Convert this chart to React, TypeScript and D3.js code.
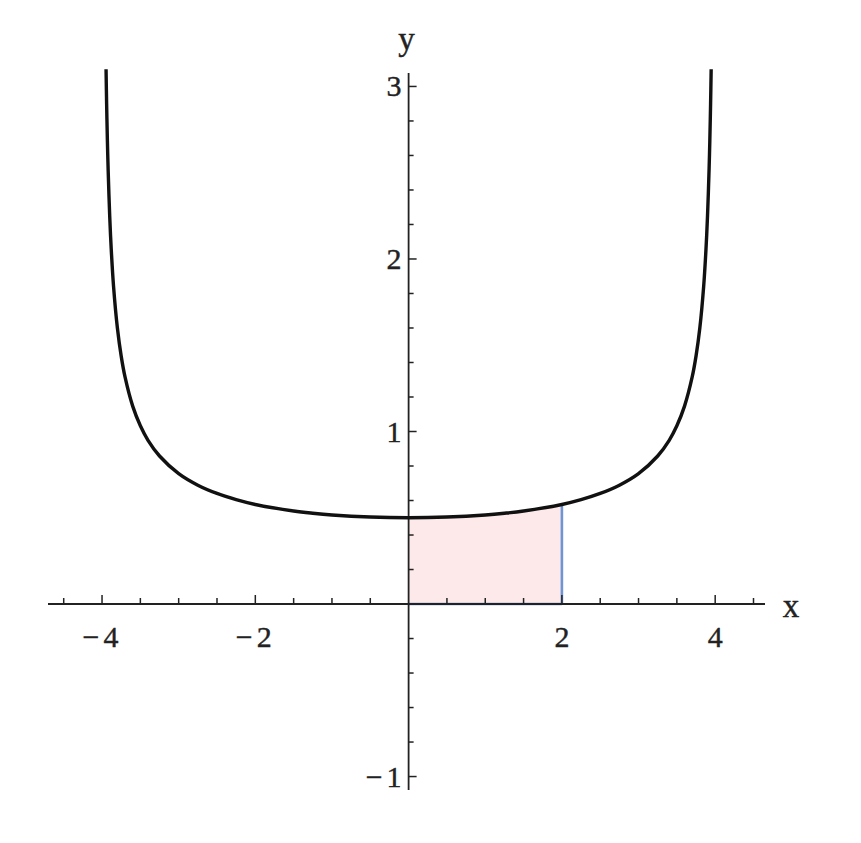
import React from "react";
import * as d3 from "d3";

const curveX = [
  -3.9476, -3.94, -3.93, -3.92, -3.9, -3.88, -3.85, -3.8, -3.75, -3.7, -3.6, -3.5, -3.4, -3.25, -3.0, -2.75, -2.5, -2.25, -2.0, -1.5, -1.25, -1.0, -0.5, 0,
  0.5, 1.0, 1.25, 1.5, 2.0, 2.25, 2.5, 2.75, 3.0, 3.25, 3.4, 3.5, 3.6, 3.7, 3.75, 3.8, 3.85, 3.88, 3.9, 3.92, 3.93, 3.94, 3.9476,
];
const curveY = [
  3.1, 2.898, 2.684, 2.513, 2.25, 2.057, 1.843, 1.601, 1.437, 1.316, 1.147, 1.033, 0.949, 0.858, 0.756, 0.689, 0.641, 0.605, 0.577, 0.539, 0.526, 0.516, 0.504, 0.5,
  0.504, 0.516, 0.526, 0.539, 0.577, 0.605, 0.641, 0.689, 0.756, 0.858, 0.949, 1.033, 1.147, 1.316, 1.437, 1.601, 1.843, 2.057, 2.25, 2.513, 2.684, 2.898, 3.1,
];
const shadeX = [0, 0.5, 1.0, 1.5, 2.0];
const shadeY = [0.5, 0.504, 0.516, 0.539, 0.577];

const xTickLabels = [-4, -2, 2, 4];
const yTickLabels = [-1, 1, 2, 3];
const xMinorTicks = [-4.5, -4, -3.5, -3, -2.5, -2, -1.5, -1, -0.5, 0.5, 1, 1.5, 2, 2.5, 3, 3.5, 4, 4.5];
const yMinorTicks = [-1, -0.8, -0.6, -0.4, -0.2, 0.2, 0.4, 0.6, 0.8, 1, 1.2, 1.4, 1.6, 1.8, 2, 2.2, 2.4, 2.6, 2.8, 3];

export default function App() {
  const W = 861, H = 843;
  const x = d3.scaleLinear().domain([-4.705, 4.65]).range([48, 765]);
  const y = d3.scaleLinear().domain([-1.078, 3.078]).range([790, 73]);

  const curvePts = curveX.map((v, i) => [v, curveY[i]] as [number, number]);
  const line = d3.line<[number, number]>().x(d => x(d[0])).y(d => y(d[1])).curve(d3.curveCatmullRom);
  const shadePts = shadeX.map((v, i) => [v, shadeY[i]] as [number, number]);
  const area = d3.area<[number, number]>().x(d => x(d[0])).y0(y(0)).y1(d => y(d[1])).curve(d3.curveCatmullRom);

  const font = "'Liberation Serif', 'DejaVu Serif', serif";
  const axisColor = "#222";
  const x0 = x(0), y0 = y(0);
  const label = (t: number) =>
    t < 0 ? (
      <>
        <tspan>{"\u2212"}</tspan>
        <tspan dx={4}>{String(Math.abs(t))}</tspan>
      </>
    ) : (
      String(t)
    );
  const textStyle = { stroke: "#222", strokeWidth: 0.4 } as React.CSSProperties;

  return (
    <svg width={W} height={H} style={{ position: "absolute", left: 0, top: 0, background: "#fff" }}>
      <path d={area(shadePts) || ""} fill="#fde9ea" stroke="none" />
      <line x1={x(2)} x2={x(2)} y1={y0} y2={y(shadeY[shadeY.length - 1])} stroke="#7094d4" strokeWidth={2.6} />
      <line x1={x(0)} x2={x(2)} y1={y0} y2={y0} stroke="#7094d4" strokeWidth={2.6} />

      {/* axes */}
      <line x1={48} x2={765} y1={y0} y2={y0} stroke={axisColor} strokeWidth={1.8} />
      <line x1={x0} x2={x0} y1={73} y2={790} stroke={axisColor} strokeWidth={1.8} />
      {xMinorTicks.map(t => {
        const major = xTickLabels.includes(t);
        return <line key={"xt" + t} x1={x(t)} x2={x(t)} y1={y0} y2={y0 - (major ? 9 : 6)} stroke={axisColor} strokeWidth={1.5} />;
      })}
      {yMinorTicks.map(t => {
        const major = yTickLabels.includes(t);
        return <line key={"yt" + t} x1={x0} x2={x0 + (major ? 8 : 5)} y1={y(t)} y2={y(t)} stroke={axisColor} strokeWidth={1.5} />;
      })}
      {xTickLabels.map(t => (
        <text key={"xl" + t} x={x(t) - (t < 0 ? 1.5 : 0)} y={y0 + 43} fontSize={30} fontFamily={font} textAnchor="middle" fill="#222" style={textStyle}>
          {label(t)}
        </text>
      ))}
      {yTickLabels.map(t => (
        <text key={"yl" + t} x={x0 - 7} y={y(t) + 10} fontSize={30} fontFamily={font} textAnchor="end" fill="#222" style={textStyle}>
          {label(t)}
        </text>
      ))}
      <text x={791} y={y0 + 13} fontSize={33} fontFamily={font} textAnchor="middle" fill="#222" style={textStyle}>x</text>
      <text x={x0 - 2} y={50} fontSize={33} fontFamily={font} textAnchor="middle" fill="#222" style={textStyle}>y</text>

      <path d={line(curvePts) || ""} fill="none" stroke="#111" strokeWidth={3.4} strokeLinejoin="round" />
    </svg>
  );
}
